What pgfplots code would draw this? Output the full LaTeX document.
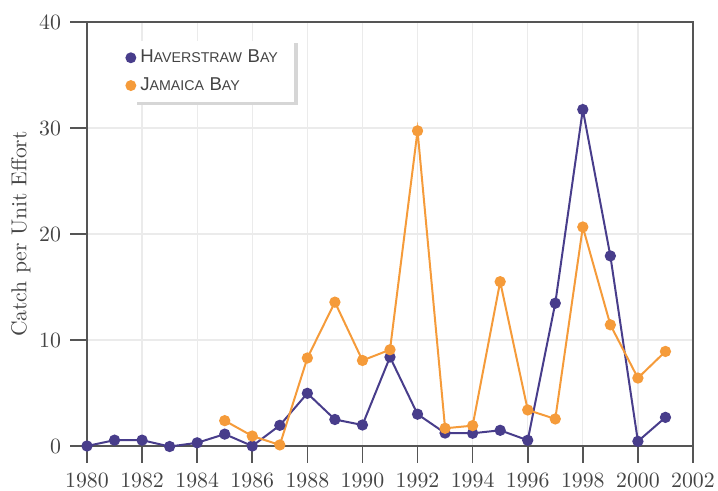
\documentclass[border=0pt]{standalone}
\usepackage{pgfplots}
\pgfplotsset{compat=1.18}
\usepackage{fontspec}
\newfontfamily\legfont{Liberation Sans}
\definecolor{hav}{HTML}{483D8B}
\definecolor{jam}{HTML}{F59B3A}
\definecolor{txt}{HTML}{444444}
\definecolor{gridc}{HTML}{EBEBEB}
\definecolor{axc}{HTML}{555555}
\definecolor{shad}{HTML}{D6D6D6}
\newcommand{\fsc}[2]{{\fontsize{9.3}{10}\selectfont #1}{\fontsize{7.1}{8}\selectfont #2}}
\pgfplotstableread{
year val
1980 0
1981 0.55
1982 0.55
1983 -0.05
1984 0.3
1985 1.12
1986 0
1987 1.95
1988 4.97
1989 2.5
1990 1.98
1991 8.39
1992 3.0
1993 1.22
1994 1.2
1995 1.48
1996 0.54
1997 13.47
1998 31.74
1999 17.93
2000 0.44
2001 2.7
}\hav
\pgfplotstableread{
year val
1985 2.39
1986 0.94
1987 0.1
1988 8.3
1989 13.57
1990 8.07
1991 9.08
1992 29.73
1993 1.67
1994 1.92
1995 15.5
1996 3.4
1997 2.55
1998 20.66
1999 11.43
2000 6.41
2001 8.92
}\jam
\begin{document}
\begin{tikzpicture}
\begin{axis}[
  at={(0,0)}, anchor=south west,
  scale only axis,
  width=303pt, height=212pt,
  xmin=1980, xmax=2002, ymin=0, ymax=40,
  xtick={1980,1982,...,2002},
  ytick={0,10,20,30,40},
  ticklabel style={font=\fontsize{10.9}{12}\selectfont, text=txt},
  xticklabel style={/pgf/number format/1000 sep={}, yshift=-1.5pt},
  yticklabel style={xshift=-1pt},
  /pgf/number format/assume math mode=true,
  tick align=outside,
  xtick pos=bottom, ytick pos=left,
  major tick length=8.5pt,
  tick style={axc, line width=0.8pt},
  axis line style={axc, line width=0.8pt},
  grid=major,
  major grid style={gridc, line width=0.6pt},
  clip=false,
  ylabel={Catch per Unit Effort},
  ylabel style={at={(axis description cs:-0.109,0.5)}, anchor=center, text=txt,
    font=\fontsize{10.8}{12}\selectfont},
  legend cell align=left,
  legend style={at={(axis description cs:0.043,0.955)}, anchor=north west,
    draw=none, fill=white, name=leg,
    row sep=2pt, inner xsep=6pt, inner ysep=2.2pt, text=txt,
    font=\legfont},
  legend image code/.code={\fill[#1] (0.05cm,0cm) circle (2.2pt);},
]
\addplot[hav, line width=1pt, mark=*, mark size=2.3pt] table[x=year,y=val]{\hav};
\addlegendentry{\fsc{H}{AVERSTRAW} \fsc{B}{AY}}
\addplot[jam, line width=1pt, mark=*, mark size=2.3pt] table[x=year,y=val]{\jam};
\addlegendentry{\fsc{J}{AMAICA} \fsc{B}{AY}}
\end{axis}
\fill[shad] ([yshift=-1pt]leg.north east) rectangle ([xshift=1.6pt,yshift=-1.6pt]leg.south east);
\fill[shad] ([xshift=12pt]leg.south west) rectangle ([xshift=1.6pt,yshift=-1.6pt]leg.south east);
\pgfresetboundingbox
\path[use as bounding box] (-43.5pt,-22.5pt) rectangle (315.5pt,223pt);
\end{tikzpicture}
\end{document}
